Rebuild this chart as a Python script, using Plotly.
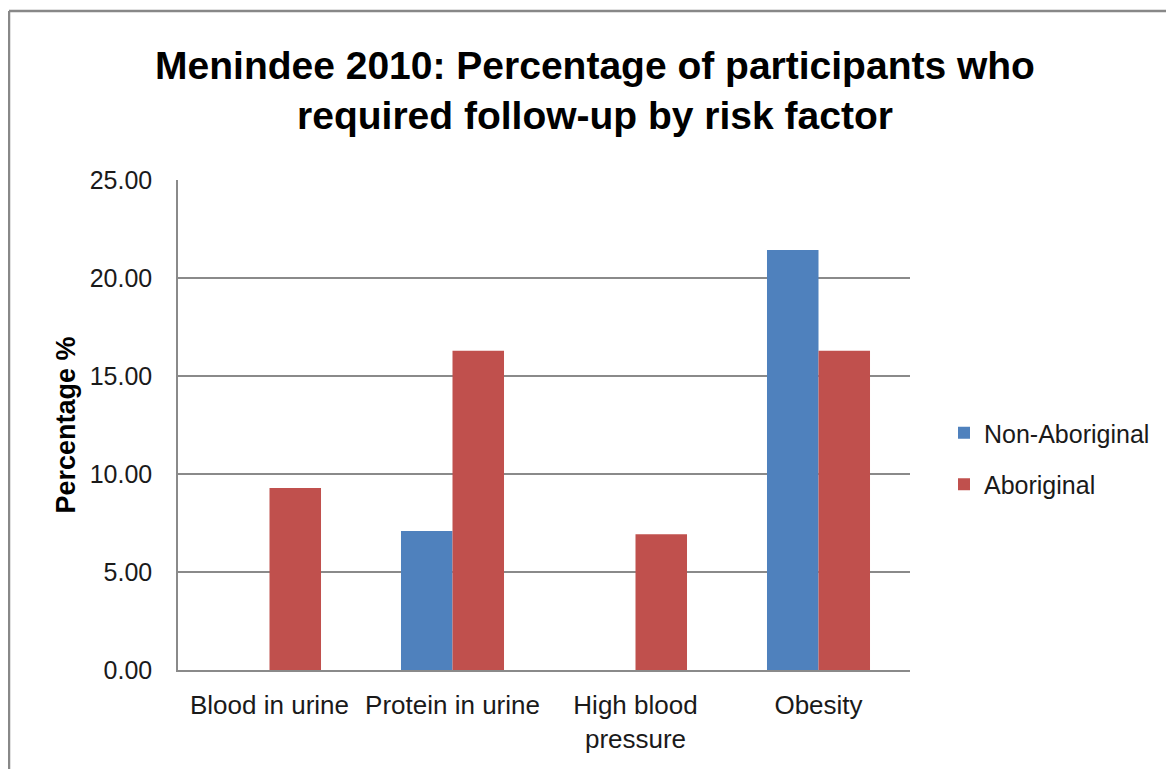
import plotly.graph_objects as go

categories = ["Blood in urine", "Protein in urine", "High blood<br>pressure", "Obesity"]
non_aboriginal = [0.0, 7.09, 0.0, 21.43]
aboriginal = [9.28, 16.29, 6.93, 16.29]
series_names = ["Non-Aboriginal", "Aboriginal"]
y_ticks = [0, 5, 10, 15, 20, 25]

# the page body adds an 8px offset, so the figure is sized to fit the window
W, H = 1166, 761
L, R, T, B = 170, 902, 172, 662  # plot area in figure px

def px_x(p):
    return (p - L) / (R - L)

def px_y(p):
    return (B - p) / (B - T)

FONT = "Liberation Sans, Arial, sans-serif"
GRID = "#8a8a8a"
TXT = "#1a1a1a"

fig = go.Figure()
fig.add_trace(go.Bar(x=categories, y=non_aboriginal, name=series_names[0],
                     marker=dict(color="#4F81BD", line=dict(width=0)),
                     legendgroup="a"))
fig.add_trace(go.Bar(x=categories, y=aboriginal, name=series_names[1],
                     marker=dict(color="#C0504D", line=dict(width=0)),
                     legendgroup="b"))

fig.update_layout(
    width=W, height=H,
    margin=dict(l=L, r=W - R, t=T, b=H - B, pad=0),
    paper_bgcolor="white", plot_bgcolor="white",
    barmode="group", bargap=0.437, bargroupgap=0,
    font=dict(family=FONT, size=25, color=TXT),
    title=dict(
        text="Menindee 2010: Percentage of participants who<br>required follow-up by risk factor",
        x=587 / W, xanchor="center", xref="container",
        y=1 - 70.5 / H, yanchor="middle", yref="container",
        font=dict(family=FONT, size=39, color="black", weight="bold"),
    ),
    legend=dict(
        x=px_x(936), xanchor="left", y=px_y(450.5), yanchor="middle",
        font=dict(family=FONT, size=25, color=TXT),
        traceorder="grouped", tracegroupgap=16,
        bgcolor="rgba(0,0,0,0)", itemwidth=30,
    ),
    showlegend=True,
)

fig.update_xaxes(
    showgrid=False, showline=True, linecolor=GRID, linewidth=1.5,
    ticks="", ticklabelstandoff=11,
    tickfont=dict(family=FONT, size=26, color=TXT),
    fixedrange=True,
)
fig.update_yaxes(
    range=[0, 25], tickvals=y_ticks, tickformat=".2f",
    showgrid=True, gridcolor=GRID, gridwidth=1.5,
    showline=True, linecolor=GRID, linewidth=1.5,
    ticks="", ticklabelstandoff=19, zeroline=False,
    tickfont=dict(family=FONT, size=25, color=TXT),
    title=dict(text="Percentage %", standoff=6,
               font=dict(family=FONT, size=27, color="black", weight="bold")),
    fixedrange=True,
)

# outer chart frame (top and left edges visible)
fig.add_shape(type="line", xref="paper", yref="paper",
              x0=px_x(1), x1=px_x(1200), y0=px_y(3), y1=px_y(3),
              line=dict(color="#888888", width=2.5))
fig.add_shape(type="line", xref="paper", yref="paper",
              x0=px_x(1), x1=px_x(1), y0=px_y(3), y1=px_y(800),
              line=dict(color="#888888", width=2.5))

fig.write_html("out.html")
